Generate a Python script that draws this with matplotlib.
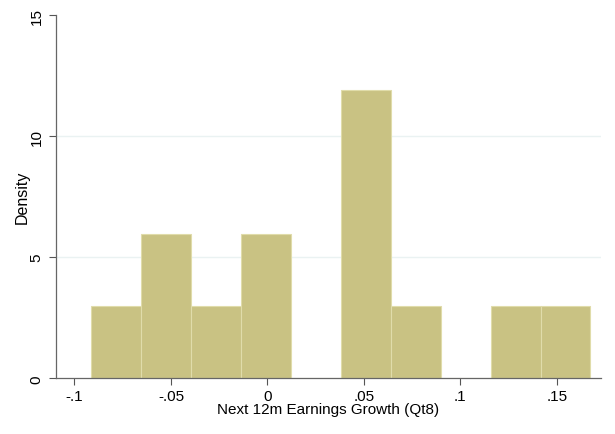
import numpy as np
import matplotlib.pyplot as plt

# histograma de crecimiento de beneficios (Qt8)
conteos = [1, 2, 1, 2, 0, 4, 1, 0, 1, 1]
inicio = -0.0913
ancho = 0.02587
n_total = sum(conteos)

bordes = inicio + ancho * np.arange(len(conteos))
densidad = np.array(conteos) / (n_total * ancho)

xticks = [-0.1, -0.05, 0, 0.05, 0.1, 0.15]
xtick_labels = ['-.1', '-.05', '0', '.05', '.1', '.15']
yticks = [0, 5, 10, 15]

plt.rcParams['font.family'] = ['Liberation Sans', 'DejaVu Sans']

fig = plt.figure(figsize=(6.15, 4.35), dpi=100)
ax = fig.add_axes([0.091, 0.128, 0.886, 0.835])

for y in [5, 10]:
    ax.axhline(y, color='#eaf2f2', lw=1, zorder=0)

ax.bar(bordes, densidad, width=ancho, align='edge', color='#c9c283',
       edgecolor='#e0dcaa', linewidth=0.8, zorder=2)

ax.set_xlim(-0.1096, 0.1728)
ax.set_ylim(0, 15)
ax.set_xticks(xticks)
ax.set_xticklabels(xtick_labels)
ax.set_yticks(yticks)
ax.set_yticklabels([str(t) for t in yticks], rotation=90, va='center')
ax.tick_params(labelsize=11, length=5, color='#555555', width=0.8)
ax.tick_params(axis='x', pad=3)
ax.tick_params(axis='y', pad=4)

for s in ['top', 'right']:
    ax.spines[s].set_visible(False)
for s in ['left', 'bottom']:
    ax.spines[s].set_color('#666666')
    ax.spines[s].set_linewidth(0.9)

ax.set_xlabel('Next 12m Earnings Growth (Qt8)', fontsize=11, labelpad=-1)
ax.set_ylabel('Density', fontsize=11.5, labelpad=0)

fig.savefig('out.png', dpi=100)
